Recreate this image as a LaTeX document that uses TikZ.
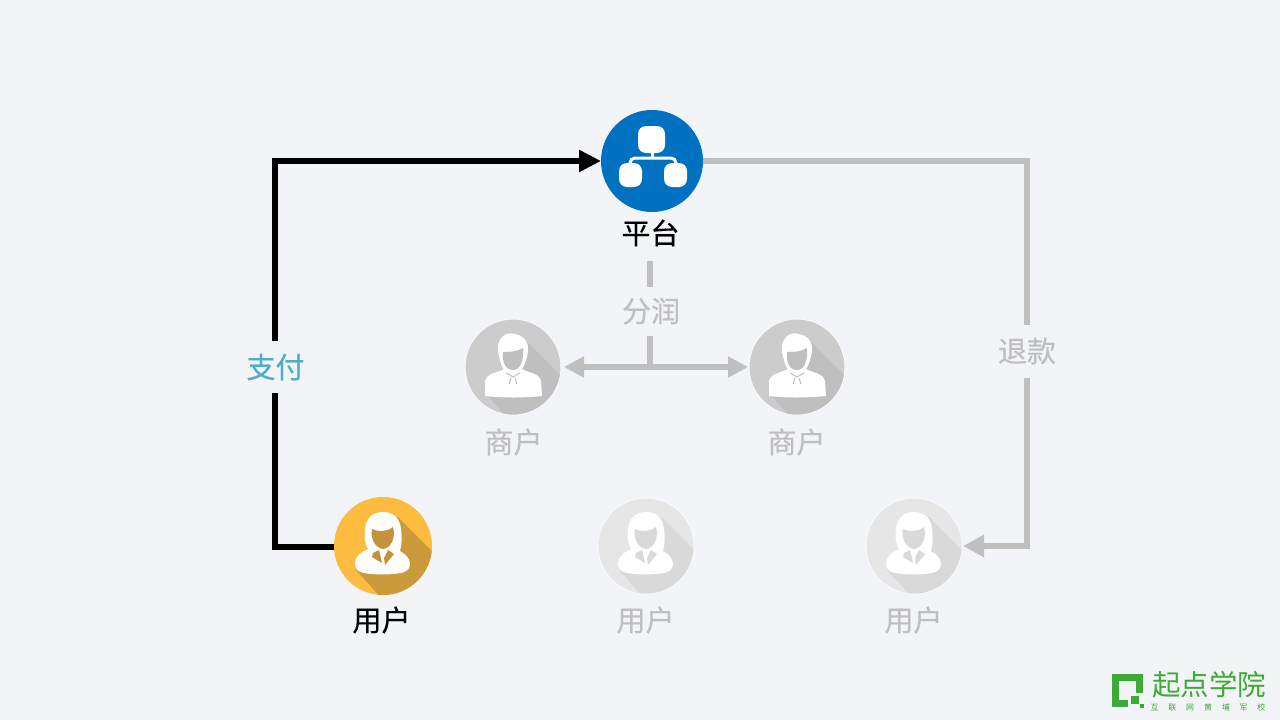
\documentclass[tikz,border=0pt]{standalone}
\usepackage{fontspec}
\setmainfont[FakeBold=0.35]{Noto Sans CJK SC}
\newfontfamily\logomain{Noto Sans CJK SC}
\newfontfamily\logosmall[LetterSpace=122]{Noto Sans CJK SC}
\usetikzlibrary{arrows.meta,positioning,calc}
\definecolor{pagebg}{HTML}{F2F4F8}
\definecolor{linegray}{HTML}{BFBFBF}
\definecolor{paycyan}{HTML}{4FAEC6}
\definecolor{logogreen}{HTML}{3DAA35}
\definecolor{platblue}{HTML}{0070C0}
\definecolor{useryellow}{HTML}{FDBB3F}
\definecolor{usershade}{HTML}{CB9A3A}
\definecolor{userface}{HTML}{C4923A}
\definecolor{shopfill}{HTML}{CCCCCC}
\definecolor{shopshade}{HTML}{BFBFBF}
\definecolor{dimfill}{HTML}{E6E6E6}
\definecolor{dimshade}{HTML}{D9D9D9}
\definecolor{ringcolor}{HTML}{F8F9FB}
\tikzset{
  pics/woman/.style n args={3}{code={
    \begin{scope}
      \clip (0,0) circle (#1);
      \fill[#2] (15,-29) -- (70,26) -- (20,76) -- (-27,24) -- cycle;
    \end{scope}
    \fill[white] (0,-34) .. controls (11,-34) and (17,-27) .. (18,-17) .. controls (19,-8) and (19,-2) .. (17,5)
      .. controls (22,8) and (27,12) .. (27,18) .. controls (27,24) and (22,26) .. (18,27)
      .. controls (6,29) and (-8,29) .. (-19,27) .. controls (-25,26) and (-28,23) .. (-28,17)
      .. controls (-28,11) and (-22,6) .. (-15,3) .. controls (-18,-2) and (-19,-8) .. (-18,-17)
      .. controls (-17,-27) and (-11,-34) .. (0,-34) -- cycle;
    \fill[#3] (-11,-17) .. controls (-5,-14) and (4,-14) .. (10,-19) .. controls (13,-8) and (8,2) .. (0,3)
      .. controls (-8,2) and (-13,-8) .. (-11,-17) -- cycle;
    \fill[#3] (-10,7) -- (-4,4) -- (-1,17) -- (-11,11) -- cycle;
    \fill[#3] (5,4) -- (11,8) -- (2,19) -- (1,12) -- cycle;
  }},
  pics/man/.style n args={3}{code={
    \begin{scope}
      \clip (0,0) circle (#1);
      \fill[#2] (14,-25) -- (70,31) -- (20,80) -- (-26,28) -- cycle;
    \end{scope}
    \fill[white] (-13,-7) .. controls (-16,-16) and (-16,-23) .. (-13,-27) .. controls (-10,-33) and (-4,-35) .. (2,-33)
      .. controls (9,-32) and (15,-27) .. (15,-18) .. controls (15,-14) and (14,-10) .. (13,-7)
      .. controls (12,-2) and (9,2) .. (7,5) -- (-7,5) .. controls (-10,2) and (-12,-2) .. (-13,-7) -- cycle;
    \fill[white] (-9,2) -- (9,2) .. controls (16,6) and (26,6) .. (28,14) -- (29,29)
      .. controls (10,31) and (-10,31) .. (-28,29) -- (-28,14) .. controls (-26,6) and (-16,6) .. (-9,2) -- cycle;
    \fill[#3] (-10,-15) .. controls (-5,-15) and (4,-15) .. (10,-19) .. controls (11,-8) and (8,3) .. (0,3)
      .. controls (-8,3) and (-11,-6) .. (-10,-15) -- cycle;
    \draw[#3,line width=1pt] (-7,6) -- (0,10) -- (7,6) (-2,11) -- (-4,17) (2,11) -- (4,17);
  }},
  pics/tree/.style={code={
    \fill[white,rounded corners=8pt] (-14,-35) rectangle (13,-8);
    \fill[white,rounded corners=8pt] (-33,2) rectangle (-10,26);
    \fill[white,rounded corners=8pt] (12,2) rectangle (35,26);
    \draw[white,line width=3pt] (0,-8) -- (0,-3);
    \draw[white,line width=3pt,rounded corners=5pt] (-22,4) -- (-22,-3) -- (24,-3) -- (24,4);
  }},
  logobar/.style={logogreen,line width=6.5pt}
}
\begin{document}
\begin{tikzpicture}[x=1pt, y=-1pt, font=\fontsize{29}{31}\selectfont,
  iconhead/.style={circle, inner sep=0pt, outer sep=0pt, minimum size=96pt, fill=#1, draw=ringcolor, line width=1pt},
  darklabel/.style={inner sep=0pt, text=black},
  graylabel/.style={inner sep=0pt, text=linegray},
  breaklabel/.style={fill=pagebg, inner sep=0pt, minimum width=62pt},
  payline/.style={black, line width=6pt, -{Triangle[length=22pt,width=21pt]}},
  grayline/.style={linegray, line width=6pt},
  grayarrow/.style={grayline, -{Triangle[length=21pt,width=21pt]}},
  bothway/.style={linegray, line width=6pt, {Triangle[length=20pt,width=20pt]}-{Triangle[length=20pt,width=20pt]}}]
  \fill[pagebg] (0,0) rectangle (1280,720);
  % circles
  \node[iconhead=platblue, draw=none, minimum size=102pt] (pingtai) at (652,161) {};
  \node[iconhead=shopfill] (shang1) at (513,367) {};
  \node[iconhead=shopfill] (shang2) at (797,367) {};
  \node[iconhead=useryellow, draw=none, minimum size=98pt] (yonghu1) at (383,546) {};
  \node[iconhead=dimfill] (yonghu2) at (646,546) {};
  \node[iconhead=dimfill] (yonghu3) at (914,546) {};
  % icons
  \pic at (pingtai) {tree};
  \pic at (yonghu1) {woman={49}{usershade}{userface}};
  \pic at (shang1) {man={47.5}{shopshade}{shopshade}};
  \pic at (shang2) {man={47.5}{shopshade}{shopshade}};
  \pic at (yonghu2) {woman={47.5}{dimshade}{dimshade}};
  \pic at (yonghu3) {woman={47.5}{dimshade}{dimshade}};
  % labels
  \node[darklabel] (pingtaitxt) at (650.5,233) {平台};
  \node[darklabel] (yonghutxt1) at (381.5,620) {用户};
  \node[graylabel] (yonghutxt2) at (645.5,620) {用户};
  \node[graylabel] (yonghutxt3) at (913.5,620) {用户};
  \node[graylabel] (shangtxt1) at (513.5,442) {商户};
  \node[graylabel] (shangtxt2) at (796.5,442) {商户};
  % connectors
  \coordinate (paycorner) at (275,547);
  \coordinate (backcorner) at (1027,546);
  \coordinate (split) at (650,367);
  \draw[payline] (yonghu1.west |- paycorner) -- (paycorner) |- (pingtai.west);
  \draw[grayarrow, shorten >=1pt] (pingtai.east) -| (backcorner) -- (yonghu3.east);
  \draw[bothway, shorten <=3pt, shorten >=1pt] (shang1.east) -- (shang2.west);
  \draw[grayline, shorten <=14pt] (pingtaitxt.south -| split) -- (split);
  \node[breaklabel, text=paycyan, minimum height=52pt] (zhifu) at (275.5,367) {支付};
  \node[breaklabel, text=linegray, minimum height=53pt] (tuikuan) at (1027,351) {退款};
  \node[breaklabel, text=linegray, minimum height=49pt] (fenrun) at (651,311) {分润};
  % logo
  \draw[logobar] (1128,703.7) -- (1115.3,703.7) -- (1115.3,677.3) -- (1139.7,677.3) -- (1139.7,693);
  \fill[logogreen] (1131,696) rectangle (1138.5,704);
  \fill[logogreen] (1140,704) rectangle (1143.5,707.5);
  \node[inner sep=0pt, text=logogreen, font=\fontsize{28.5}{30}\logomain] (logotxt) at (1209,685) {起点学院};
  \node[inner sep=0pt, text=logogreen, font=\fontsize{8}{9}\logosmall] (logosub) at (1208,707) {互联网黄埔军校};
\end{tikzpicture}
\end{document}
